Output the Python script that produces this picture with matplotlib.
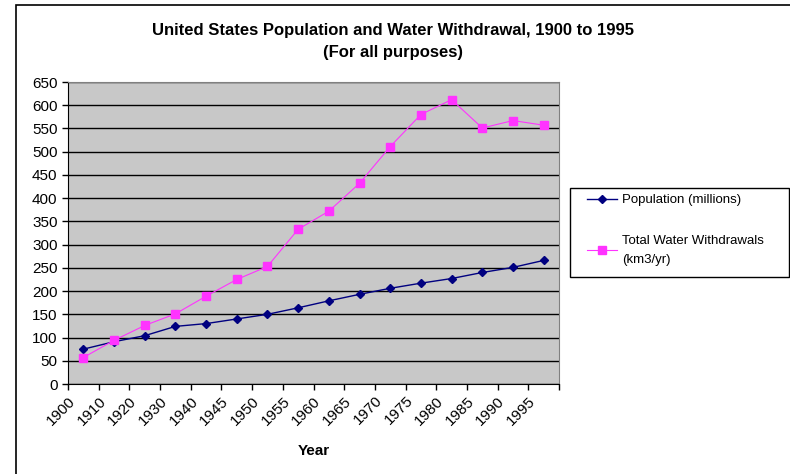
import numpy as np
import matplotlib.pyplot as plt
from matplotlib.patches import Rectangle

plt.rcParams['font.family'] = ['Liberation Sans', 'DejaVu Sans']

years = ['1900', '1910', '1920', '1930', '1940', '1945', '1950', '1955',
         '1960', '1965', '1970', '1975', '1980', '1985', '1990', '1995']
population = [75, 91, 104, 124, 130, 140, 150, 164,
              179, 193, 206, 217, 227, 240, 251, 266]
water = [57, 94, 126, 151, 189, 225, 253, 333,
         372, 432, 511, 580, 612, 551, 567, 557]

W, H = 790, 474
fig = plt.figure(figsize=(W / 100, H / 100), dpi=100)

# chart area border (only left/top visible in the reference)
fig.patches.append(Rectangle((16 / W, -0.1), 1.2, 1 - 5 / H + 0.1,
                             transform=fig.transFigure, fill=False,
                             edgecolor='black', linewidth=1.2))

ax = fig.add_axes([68 / W, 1 - 384 / H, (559 - 68) / W, (384 - 82) / H])
ax.set_facecolor('#C8C8C8')

x = np.arange(len(years))
ax.plot(x, population, color='#000080', marker='D', markersize=4.5,
        linewidth=1, label='Population (millions)', zorder=3)
ax.plot(x, water, color='#FF33FF', marker='s', markersize=5.5,
        linewidth=0.8, label='Total Water Withdrawals\n(km3/yr)', zorder=3)

ax.set_xlim(-0.5, len(years) - 0.5)
ax.set_ylim(0, 650)
ax.set_yticks(np.arange(0, 651, 50))
ax.set_xticks(np.arange(len(years) + 1) - 0.5)
ax.set_xticklabels(years + [''], rotation=45, ha='right',
                   rotation_mode='anchor')
ax.tick_params(axis='both', direction='out', length=4, width=1,
               labelsize=11, colors='black')
ax.tick_params(axis='x', pad=3)

ax.grid(axis='y', color='black', linewidth=1)
ax.set_axisbelow(True)
for side in ['top', 'right']:
    ax.spines[side].set_color('#808080')
for side in ['left', 'bottom']:
    ax.spines[side].set_color('black')

ax.set_xlabel('Year', fontsize=11, fontweight='bold', labelpad=12)

fig.text(393 / W, 1 - 30 / H, 'United States Population and Water Withdrawal, 1900 to 1995',
         ha='center', va='center', fontsize=12, fontweight='bold')
fig.text(393 / W, 1 - 52 / H, '(For all purposes)',
         ha='center', va='center', fontsize=12, fontweight='bold')

# legend frame drawn separately so the entries can sit inset like the original
fig.patches.append(Rectangle((570 / W, 1 - 277 / H), 219 / W, 89 / H,
                             transform=fig.transFigure, fill=False,
                             edgecolor='black', linewidth=1))
leg = ax.legend(loc='upper left', bbox_to_anchor=(587 / W, 1 - 194 / H),
                bbox_transform=fig.transFigure, borderaxespad=0, borderpad=0,
                fontsize=9.5, frameon=False, handlelength=2.3,
                handletextpad=0.35, labelspacing=2.2)
leg.get_texts()[1].set_linespacing(1.7)

fig.savefig('out.png', dpi=100)
